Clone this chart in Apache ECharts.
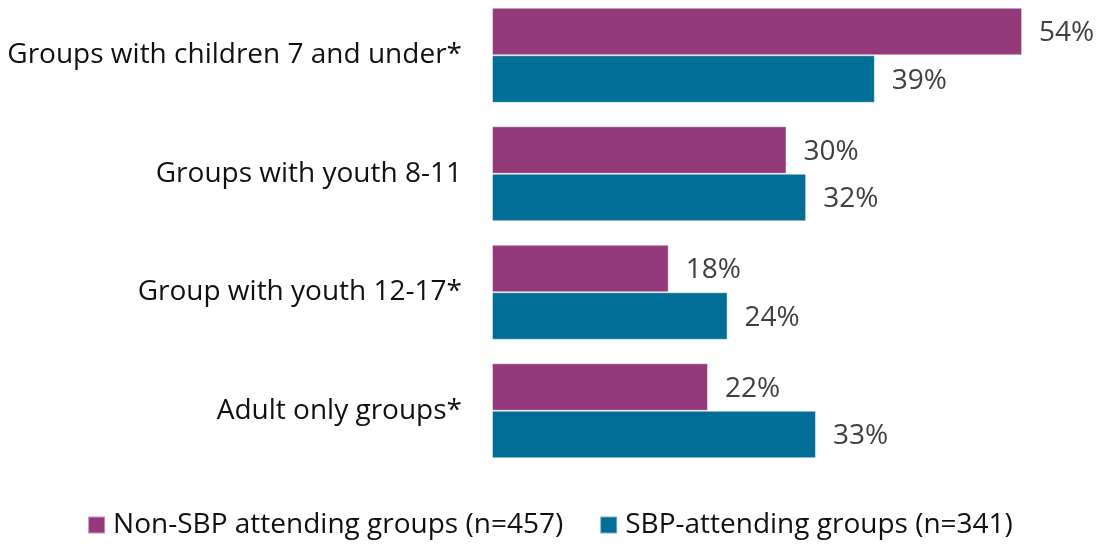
<!DOCTYPE html>
<html>
<head>
<meta charset="utf-8">
<script src="https://cdn.jsdelivr.net/npm/echarts@6/dist/echarts.min.js"></script>
<style>
html,body{margin:0;padding:0;background:#fff;}
#chart{width:1100px;height:544px;}
</style>
</head>
<body>
<div id="chart"></div>
<script>
// Share of groups by age composition, SBP vs non-SBP attendance
const categories = [
  'Groups with children 7 and under*',
  'Groups with youth 8-11',
  'Group with youth 12-17*',
  'Adult only groups*'
];
const nonSbpValues = [54, 30, 18, 22];
const sbpValues = [39, 32, 24, 33];
const seriesNames = ['Non-SBP attending groups (n=457)', 'SBP-attending groups (n=341)'];

const FONT = '"Open Sans", "Liberation Sans", sans-serif';
const chart = echarts.init(document.getElementById('chart'));

const labelStyle = {
  show: true,
  position: 'right',
  distance: 17,
  offset: [0, 2],
  formatter: '{c}%',
  color: '#404040',
  fontSize: 28,
  fontFamily: FONT
};

chart.setOption({
  animation: false,
  grid: {
    left: 492, right: 19, top: -4, height: 474,
    containLabel: false, outerBoundsMode: 'none'
  },
  xAxis: {
    type: 'value', min: 0, max: 60,
    show: false
  },
  yAxis: {
    type: 'category',
    data: categories,
    inverse: true,
    axisLine: { show: false },
    axisTick: { show: false },
    axisLabel: {
      margin: 30, color: '#111111', fontSize: 28, fontFamily: FONT,
      padding: [5, 0, 0, 0]
    }
  },
  legend: {
    bottom: 0,
    left: 'center',
    icon: 'rect',
    itemWidth: 17,
    itemHeight: 17,
    itemGap: 36,
    textStyle: { color: '#111111', fontSize: 28, fontFamily: FONT, padding: [0, 0, 0, 3] }
  },
  series: [
    {
      name: seriesNames[0], type: 'bar', data: nonSbpValues,
      barGap: '0%', barWidth: 47.5,
      itemStyle: { color: '#943A7B', borderColor: 'rgba(255,255,255,0.45)', borderWidth: 1 },
      label: labelStyle
    },
    {
      name: seriesNames[1], type: 'bar', data: sbpValues,
      barGap: '0%', barWidth: 47.5,
      itemStyle: { color: '#006E96', borderColor: 'rgba(255,255,255,0.45)', borderWidth: 1 },
      label: labelStyle
    }
  ]
});
</script>
</body>
</html>
